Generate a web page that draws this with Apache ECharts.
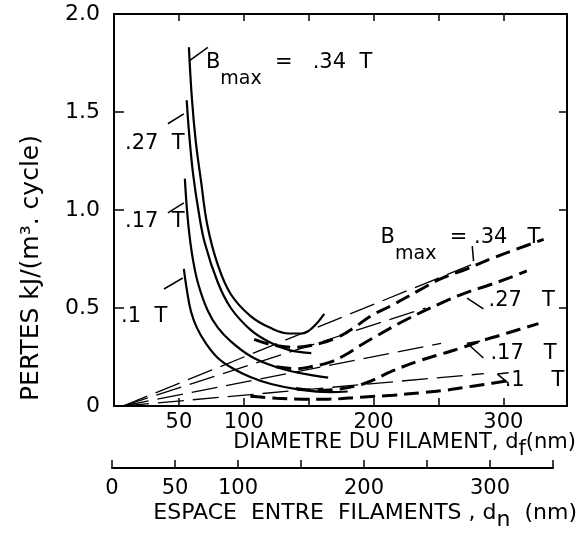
<!DOCTYPE html>
<html>
<head>
<meta charset="utf-8">
<script src="https://cdn.jsdelivr.net/npm/echarts@6/dist/echarts.min.js"></script>
<style>
  html, body { margin: 0; padding: 0; background: #fff; }
  #chart { width: 578px; height: 533px; }
</style>
</head>
<body>
<div id="chart"></div>
<script>
// valeurs : d_f en nm, pertes en kJ/(m3.cycle)
const xLabelsMain = [50, 100, 200, 300];
const xLabelsSpace = [0, 50, 100, 200, 300];

// courbes pleines (calcul)
const solid34 = [[57.7, 1.83], [60, 1.57], [63, 1.35], [67, 1.15], [72, 0.92], [80, 0.72], [90, 0.57], [105, 0.46], [120, 0.40], [135, 0.37], [145, 0.37], [153, 0.40], [162, 0.47]];
const solid27 = [[56, 1.56], [58, 1.38], [61, 1.18], [65, 1.0], [70, 0.83], [80, 0.63], [90, 0.50], [105, 0.39], [120, 0.325], [135, 0.285], [152, 0.27]];
const solid17 = [[54.6, 1.16], [56, 1.02], [58, 0.88], [61, 0.74], [65, 0.62], [72, 0.49], [80, 0.40], [90, 0.33], [105, 0.255], [120, 0.21], [135, 0.18], [150, 0.16], [165, 0.145]];
const solid10 = [[53.8, 0.70], [56.2, 0.59], [59.2, 0.485], [63.8, 0.40], [70.8, 0.32], [80, 0.245], [92, 0.19], [105, 0.148], [121, 0.112], [144, 0.082], [167, 0.071], [180, 0.074]];

// droites fines en tirets longs
const thin34 = [[7, 0], [275, 0.72]];
const thin27 = [[7, 0], [240, 0.50]];
const thin17 = [[7, 0], [252, 0.32]];
const thin10 = [[7, 0], [285, 0.165]];

// courbes en gros tirets (mesures)
const thick34 = [[108, 0.34], [123, 0.31], [140, 0.30], [159, 0.32], [172, 0.35], [185, 0.40], [198, 0.46], [213, 0.51], [235, 0.59], [252, 0.65], [272, 0.70], [290, 0.75], [310, 0.80], [331, 0.85]];
const thick27 = [[125, 0.20], [140, 0.19], [155, 0.205], [167, 0.225], [178, 0.26], [190, 0.31], [203, 0.36], [225, 0.44], [252, 0.525], [270, 0.575], [288, 0.615], [305, 0.655], [318, 0.69]];
const thick17 = [[140, 0.09], [157, 0.08], [172, 0.085], [185, 0.10], [197, 0.125], [215, 0.18], [235, 0.23], [252, 0.265], [267, 0.295], [282, 0.33], [297, 0.36], [312, 0.39], [327, 0.42]];
const thick10 = [[105, 0.05], [125, 0.04], [145, 0.035], [165, 0.035], [190, 0.045], [215, 0.055], [240, 0.07], [255, 0.08], [270, 0.095], [285, 0.11], [305, 0.13]];

// etiquettes et petits traits de rappel
const labelPos = [[70.8, 1.712], [8.5, 1.337], [8.5, 0.94], [5.4, 0.454], [205.4, 0.82], [288.5, 0.536], [290, 0.27], [301, 0.128]];
const labelText = [
  '{b|B}{s|max}{t|  =   .34  T}',
  '{t|.27  T}',
  '{t|.17  T}',
  '{t|.1  T}',
  '{b|B}{s|max}{t|  = .34   T}',
  '{t|.27   T}',
  '{t|.17   T}',
  '{t|.1    T}'
];
const leaders = [
  [[57.7, 1.76], [72.3, 1.83]],
  [[41.5, 1.44], [53.8, 1.49]],
  [[41.5, 0.985], [53.8, 1.036]],
  [[38.5, 0.597], [53, 0.653]],
  [[276, 0.816], [277, 0.74]],
  [[272, 0.55], [284.6, 0.495]],
  [[272, 0.32], [284.6, 0.245]],
  [[272, 0.32], [282, 0.33]],
  [[295.4, 0.163], [303.8, 0.117]],
  [[295.4, 0.163], [304, 0.17]]
];

const FONT = 'DejaVu Sans';

const chart = echarts.init(document.getElementById('chart'));

function solidSeries(data) {
  return {
    type: 'line',
    data: data,
    showSymbol: false,
    smooth: 0.4,
    lineStyle: { color: '#000', width: 2.2 },
    silent: true,
  };
}
function thinSeries(data) {
  return {
    type: 'line',
    data: data,
    showSymbol: false,
    lineStyle: { color: '#000', width: 1.3, type: [26, 9] },
    silent: true,
  };
}
function thickSeries(data) {
  return {
    type: 'line',
    data: data,
    showSymbol: false,
    smooth: 0.4,
    lineStyle: { color: '#000', width: 3, type: [15, 7] },
    silent: true,
  };
}

const axisLine = { show: true, onZero: false, lineStyle: { color: '#000', width: 2 } };
const tickFont = { color: '#000', fontFamily: FONT };

const option = {
  animation: false,
  backgroundColor: '#fff',
  textStyle: { fontFamily: FONT, color: '#000' },
  grid: [
    { left: 114, right: 11, top: 14, bottom: 127 },
    { left: 112, right: 25, top: 460, height: 8 },
  ],
  xAxis: [
    {
      gridIndex: 0, type: 'value', min: 0, max: 349, interval: 50, position: 'bottom',
      axisLine: axisLine,
      axisTick: { inside: true, length: 8, lineStyle: { color: '#000', width: 1.5 } },
      axisLabel: Object.assign({}, tickFont, {
        fontSize: 21, margin: 6,
        formatter: (v) => (xLabelsMain.includes(v) ? String(v) : ''),
      }),
      splitLine: { show: false },
    },
    {
      gridIndex: 0, type: 'value', min: 0, max: 349, interval: 50, position: 'top',
      axisLine: axisLine,
      axisTick: { inside: true, length: 7, lineStyle: { color: '#000', width: 1.5 } },
      axisLabel: { show: false },
      splitLine: { show: false },
    },
    {
      gridIndex: 1, type: 'value', min: 0, max: 350, interval: 50, position: 'bottom',
      axisLine: axisLine,
      axisTick: { inside: true, length: 8, lineStyle: { color: '#000', width: 1.5 } },
      axisLabel: Object.assign({}, tickFont, {
        fontSize: 21, margin: 10,
        formatter: (v) => (xLabelsSpace.includes(v) ? String(v) : ''),
      }),
      splitLine: { show: false },
    },
  ],
  yAxis: [
    {
      gridIndex: 0, type: 'value', min: 0, max: 2, interval: 0.5, position: 'left',
      axisLine: axisLine,
      axisTick: { show: true, inside: true, length: 10, lineStyle: { color: '#000', width: 1.5 } },
      axisLabel: Object.assign({}, tickFont, {
        fontSize: 22, margin: 14,
        formatter: (v) => (v === 0 ? '0' : v.toFixed(1)),
      }),
      splitLine: { show: false },
    },
    {
      gridIndex: 0, type: 'value', min: 0, max: 2, interval: 0.5, position: 'right',
      axisLine: axisLine,
      axisTick: { show: true, inside: true, length: 8, lineStyle: { color: '#000', width: 1.5 } },
      axisLabel: { show: false },
      splitLine: { show: false },
    },
    { gridIndex: 1, type: 'value', show: false, min: 0, max: 1 },
  ],
  graphic: [
    {
      type: 'text', x: 31, y: 268, rotation: Math.PI / 2,
      style: {
        text: 'PERTES kJ/(m³. cycle)', fill: '#000',
        font: '25px "DejaVu Sans"', align: 'center', verticalAlign: 'middle',
      },
    },
    {
      type: 'text', x: 576, y: 443,
      style: {
        text: '{a|DIAMETRE DU FILAMENT, d}{s|f}{a|(nm)}', fill: '#000',
        align: 'right', verticalAlign: 'middle',
        rich: {
          a: { fontSize: 21, fontFamily: FONT, fill: '#000' },
          s: { fontSize: 21, fontFamily: FONT, fill: '#000', padding: [14, 0, 0, 0] },
        },
      },
    },
    {
      type: 'text', x: 577, y: 513,
      style: {
        text: '{a|ESPACE  ENTRE  FILAMENTS , d}{s|n}{a|  (nm)}', fill: '#000',
        align: 'right', verticalAlign: 'middle',
        rich: {
          a: { fontSize: 22, fontFamily: FONT, fill: '#000' },
          s: { fontSize: 22, fontFamily: FONT, fill: '#000', padding: [14, 0, 0, 0] },
        },
      },
    },
  ],
  series: [
    solidSeries(solid34), solidSeries(solid27), solidSeries(solid17), solidSeries(solid10),
    thinSeries(thin34), thinSeries(thin27), thinSeries(thin17), thinSeries(thin10),
    thickSeries(thick34), thickSeries(thick27), thickSeries(thick17), thickSeries(thick10),
    {
      type: 'lines',
      coordinateSystem: 'cartesian2d',
      polyline: false,
      data: leaders.map((c) => ({ coords: c })),
      lineStyle: { color: '#000', width: 1.5, opacity: 1, curveness: 0 },
      silent: true,
    },
    {
      type: 'scatter',
      symbolSize: 0,
      silent: true,
      itemStyle: { color: '#000', opacity: 1 },
      data: labelPos.map((p, i) => ({ value: p, label: { formatter: labelText[i] } })),
      label: {
        show: true, position: 'right', distance: 0, color: '#000', opacity: 1,
        rich: {
          b: { fontSize: 21, fontFamily: FONT, color: '#000', verticalAlign: 'top' },
          s: { fontSize: 19, fontFamily: FONT, color: '#000', padding: [18, 0, 0, 0] },
          t: { fontSize: 21, fontFamily: FONT, color: '#000', verticalAlign: 'top' },
        },
      },
    },
  ],
};

chart.setOption(option);
</script>
</body>
</html>
